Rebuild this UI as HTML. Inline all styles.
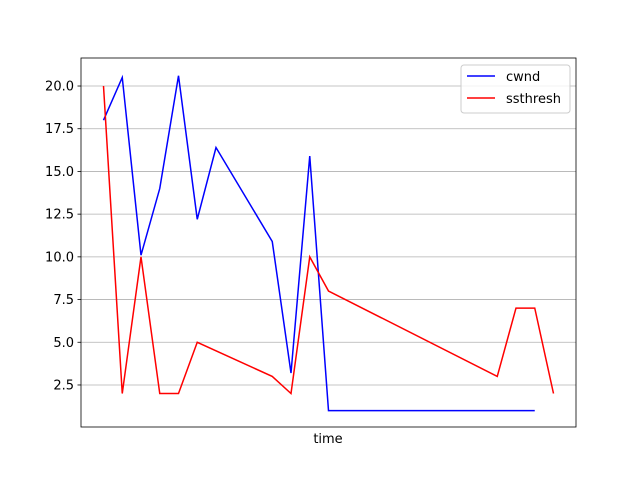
<!DOCTYPE html>
<html><head><meta charset="utf-8"><style>
body{margin:0;background:#fff;font-family:"Liberation Sans","DejaVu Sans",sans-serif}
</style></head><body>
<svg width="640" height="480" xmlns="http://www.w3.org/2000/svg" font-family="DejaVu Sans, Liberation Sans, sans-serif">
<g id="grid"></g>
<g id="yticks"></g>
<g id="lines"></g>
<rect x="81" y="58" width="495" height="369" fill="none" stroke="#000" stroke-width="0.8"/>
<text x="328" y="443" font-size="13" text-anchor="middle">time</text>
<g>
<rect x="461" y="65" width="109" height="48" rx="3" fill="#fff" fill-opacity="0.8" stroke="#ccc"/>
<line x1="467" y1="76" x2="495" y2="76" stroke="#0000ff" stroke-width="1.5"/>
<text x="506" y="81" font-size="13">cwnd</text>
<line x1="467" y1="98" x2="495" y2="98" stroke="#ff0000" stroke-width="1.5"/>
<text x="506" y="103" font-size="13">ssthresh</text>
</g>
</svg>
<script>
const cwndX=[0,1,2,3,4,5,6,9,10,11,12,23];
const cwndY=[18,20.5,10.1,14,20.6,12.2,16.4,10.9,3.2,15.9,1,1];
const ssX=[0,1,2,3,4,5,9,10,11,12,21,22,23,24];
const ssY=[20,2,10,2,2,5,3,2,10,8,3,7,7,2];
const yTicks=[2.5,5.0,7.5,10.0,12.5,15.0,17.5,20.0];
const X0=81,X1=576,Y0=427,Y1=58,xmin=-1.2,xmax=25.2,ymin=0.04,ymax=21.64;
const sx=v=>X0+(v-xmin)/(xmax-xmin)*(X1-X0);
const sy=v=>Y0-(v-ymin)/(ymax-ymin)*(Y0-Y1);
const NS="http://www.w3.org/2000/svg";
const grid=document.getElementById('grid'),yt=document.getElementById('yticks'),lines=document.getElementById('lines');
yTicks.forEach(t=>{
 const g=document.createElementNS(NS,'line');
 g.setAttribute('x1',X0);g.setAttribute('x2',X1);g.setAttribute('y1',sy(t));g.setAttribute('y2',sy(t));
 g.setAttribute('stroke','#b0b0b0');g.setAttribute('stroke-width','0.8');
 
 
 grid.appendChild(g);
 const tk=document.createElementNS(NS,'line');
 tk.setAttribute('x1',X0-3.5);tk.setAttribute('x2',X0);tk.setAttribute('y1',sy(t));tk.setAttribute('y2',sy(t));
 tk.setAttribute('stroke','#000');tk.setAttribute('stroke-width','0.8');
 
 
 yt.appendChild(tk);
 const tx=document.createElementNS(NS,'text');
 tx.setAttribute('x',X0-7);tx.setAttribute('y',sy(t)+4.5);tx.setAttribute('font-size','13');tx.setAttribute('text-anchor','end');
 tx.textContent=t.toFixed(1);
 
 
 yt.appendChild(tx);
});
function drawLine(xs,ys,color,name){
 const p=document.createElementNS(NS,'polyline');
 p.setAttribute('points',xs.map((x,i)=>sx(x)+','+sy(ys[i])).join(' '));
 p.setAttribute('fill','none');p.setAttribute('stroke',color);p.setAttribute('stroke-width','1.5');
 
 
 lines.appendChild(p);
}
drawLine(cwndX,cwndY,'#0000ff','cwnd-line');
drawLine(ssX,ssY,'#ff0000','ssthresh-line');
</script>
</body></html>
